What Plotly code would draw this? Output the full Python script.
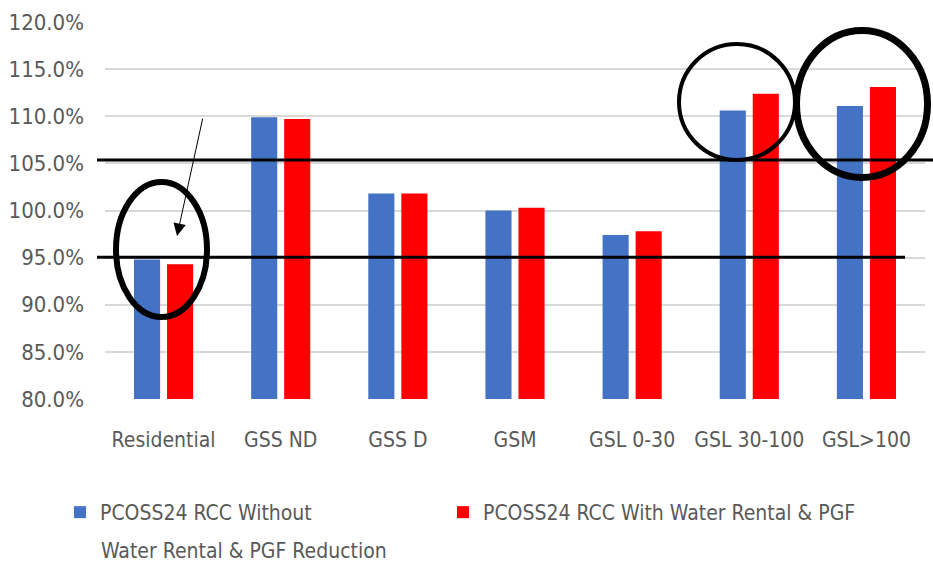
import plotly.graph_objects as go

# Category labels along the x axis
categories = ["Residential", "GSS ND", "GSS D", "GSM", "GSL 0-30", "GSL 30-100", "GSL>100"]

# Revenue-to-cost ratios (%) for the two cost-of-service scenarios
rcc_without = [94.8, 109.9, 101.8, 100.0, 97.4, 110.6, 111.1]
rcc_with = [94.3, 109.7, 101.8, 100.3, 97.8, 112.4, 113.1]

# Legend labels; the first one wraps onto a second line
series_names = [
    "PCOSS24 RCC Without",
    "PCOSS24 RCC With Water Rental & PGF",
]
series_name_cont = "Water Rental & PGF Reduction"

# Band limits marked across the chart (%)
band_low = 95.05
band_high = 105.35

W, H = 933, 565
L, R, T, B = 105, 8, 22, 166
plot_w = W - L - R
plot_h = H - T - B
y_min, y_max = 80, 120


def px_x(px):
    return (px - L) / plot_w


def px_y(py):
    return (H - B - py) / plot_h


def val_y(v):
    return (v - y_min) / (y_max - y_min)


font_family = "DejaVu Sans Condensed, sans-serif"
grey = "#595959"

fig = go.Figure()
fig.add_trace(go.Bar(x=categories, y=rcc_without, name=series_names[0], legend="legend",
                     marker=dict(color="#4472C4", line=dict(width=0))))
fig.add_trace(go.Bar(x=categories, y=rcc_with, name=series_names[1], legend="legend2",
                     marker=dict(color="#FF0000", line=dict(width=0))))

shapes = [
    # band limit lines
    dict(type="line", xref="paper", yref="paper", x0=px_x(97), x1=px_x(933),
         y0=val_y(band_high), y1=val_y(band_high), line=dict(color="black", width=3)),
    dict(type="line", xref="paper", yref="paper", x0=px_x(97), x1=px_x(905),
         y0=val_y(band_low), y1=val_y(band_low), line=dict(color="black", width=3)),
    # highlight rings
    dict(type="circle", xref="paper", yref="paper", x0=px_x(116), x1=px_x(207),
         y0=px_y(317), y1=px_y(182), line=dict(color="black", width=6)),
    dict(type="circle", xref="paper", yref="paper", x0=px_x(679), x1=px_x(795),
         y0=px_y(160), y1=px_y(44), line=dict(color="black", width=4)),
    dict(type="circle", xref="paper", yref="paper", x0=px_x(796.5), x1=px_x(927.5),
         y0=px_y(177.5), y1=px_y(30.5), line=dict(color="black", width=7)),
]

annotations = [
    # pointer into the residential ring
    dict(xref="paper", yref="paper", x=px_x(177), y=px_y(236), text="",
         showarrow=True, ax=26, ay=-119, arrowhead=2, arrowsize=2.5,
         arrowwidth=1, arrowcolor="black"),
    # second line of the first legend label
    dict(xref="paper", yref="paper", x=px_x(99), y=px_y(551), text=series_name_cont,
         showarrow=False, xanchor="left", yanchor="middle",
         font=dict(size=21, color=grey, family=font_family)),
]

legend_common = dict(orientation="h", xanchor="left", yanchor="top",
                     font=dict(size=21, color=grey), itemwidth=30,
                     bgcolor="rgba(0,0,0,0)")

fig.update_layout(
    width=W, height=H,
    margin=dict(l=L, r=R, t=T, b=B, autoexpand=False),
    paper_bgcolor="white", plot_bgcolor="white",
    barmode="group", bargap=0.436, bargroupgap=0.21,
    font=dict(family=font_family, color=grey, size=22),
    xaxis=dict(showgrid=False, showline=False, ticks="", tickfont=dict(size=21),
               ticklabelstandoff=26),
    yaxis=dict(range=[y_min, y_max], dtick=5, tickformat=".1f", ticksuffix="%",
               showgrid=True, gridcolor="#D9D9D9", gridwidth=2, zeroline=False,
               showline=False, ticks="", tickfont=dict(size=22), ticklabelstandoff=20),
    legend=dict(x=px_x(60), y=px_y(492), **legend_common),
    legend2=dict(x=px_x(443), y=px_y(492), **legend_common),
    shapes=shapes,
    annotations=annotations,
    showlegend=True,
)

fig.write_html("out.html")
